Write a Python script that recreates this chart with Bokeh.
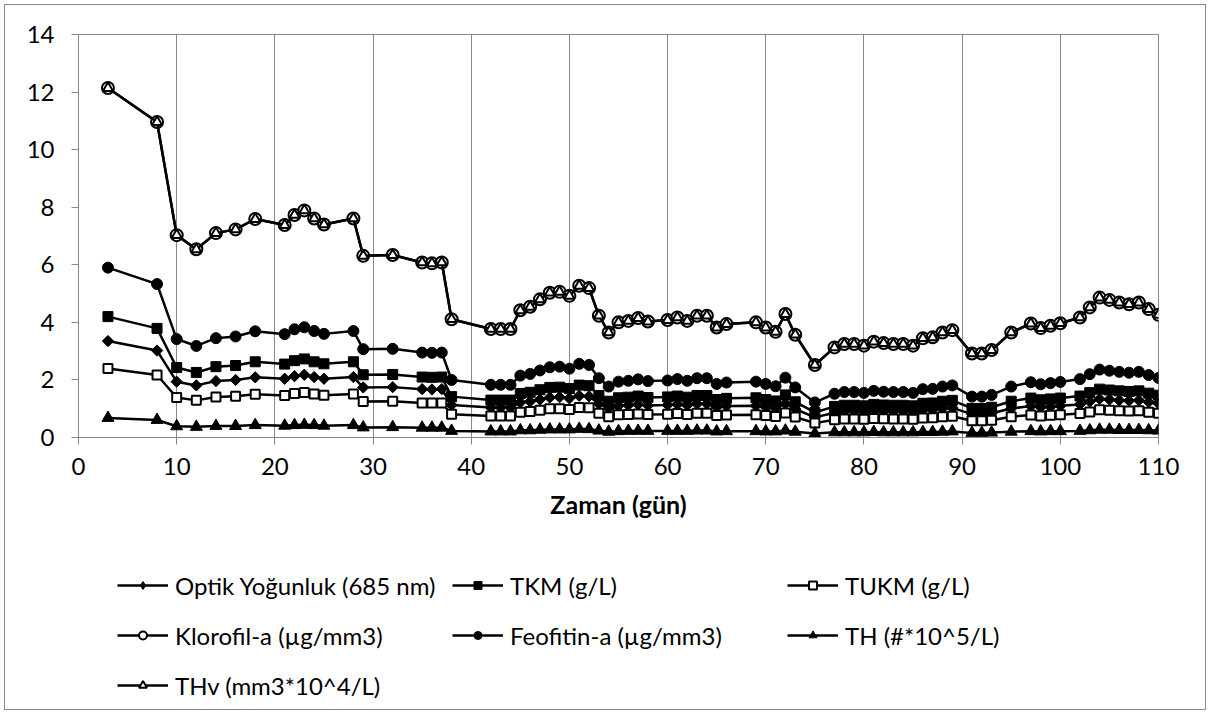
import numpy as np
from bokeh.plotting import figure
from bokeh.layouts import column
from bokeh.models import FixedTicker, Legend, LegendItem
from bokeh.embed import file_html
from bokeh.resources import INLINE

days = [3, 8, 10, 12, 14, 16, 18, 21, 22, 23, 24, 25, 28, 29, 32, 35, 36, 37, 38,
        42, 43, 44, 45, 46, 47, 48, 49, 50, 51, 52, 53, 54, 55, 56, 57, 58,
        60, 61, 62, 63, 64, 65, 66, 69, 70, 71, 72, 73, 75,
        77, 78, 79, 80, 81, 82, 83, 84, 85, 86, 87, 88, 89,
        91, 92, 93, 95, 97, 98, 99, 100, 102, 103, 104, 105, 106, 107, 108, 109, 110]

optik = [3.35, 3.02, 1.94, 1.81, 1.96, 2.00, 2.09, 2.04, 2.13, 2.18, 2.10, 2.04, 2.10, 1.74, 1.75,
         1.68, 1.67, 1.68, 1.13, 1.04, 1.04, 1.04, 1.22, 1.25, 1.32, 1.39, 1.40, 1.36, 1.45, 1.43,
         1.17, 1.01, 1.10, 1.12, 1.15, 1.11, 1.13, 1.15, 1.12, 1.17, 1.17, 1.05, 1.09, 1.10, 1.05,
         1.01, 1.18, 0.99, 0.70, 0.86, 0.90, 0.90, 0.88, 0.92, 0.91, 0.90, 0.90, 0.88, 0.95, 0.96,
         1.01, 1.03, 0.81, 0.81, 0.84, 1.01, 1.09, 1.05, 1.07, 1.10, 1.15, 1.25, 1.34, 1.32, 1.29,
         1.28, 1.29, 1.23, 1.18]

tkm = [4.20, 3.79, 2.43, 2.26, 2.46, 2.50, 2.63, 2.55, 2.67, 2.73, 2.63, 2.56, 2.63, 2.18, 2.19,
       2.10, 2.09, 2.10, 1.42, 1.30, 1.30, 1.30, 1.53, 1.57, 1.66, 1.74, 1.75, 1.70, 1.82, 1.80,
       1.46, 1.26, 1.38, 1.40, 1.44, 1.39, 1.41, 1.44, 1.40, 1.46, 1.46, 1.32, 1.36, 1.38, 1.32,
       1.27, 1.48, 1.24, 0.87, 1.08, 1.12, 1.12, 1.10, 1.15, 1.13, 1.12, 1.12, 1.10, 1.19, 1.20,
       1.26, 1.29, 1.01, 1.01, 1.05, 1.26, 1.37, 1.31, 1.34, 1.37, 1.44, 1.56, 1.68, 1.65, 1.62,
       1.60, 1.62, 1.54, 1.47]

tukm = [2.40, 2.17, 1.39, 1.29, 1.41, 1.43, 1.50, 1.46, 1.53, 1.56, 1.51, 1.47, 1.51, 1.25, 1.26,
        1.20, 1.20, 1.20, 0.81, 0.75, 0.75, 0.75, 0.88, 0.90, 0.95, 1.00, 1.00, 0.97, 1.04, 1.03,
        0.84, 0.72, 0.79, 0.80, 0.82, 0.80, 0.81, 0.83, 0.80, 0.84, 0.84, 0.76, 0.78, 0.79, 0.76,
        0.73, 0.85, 0.71, 0.50, 0.62, 0.64, 0.64, 0.63, 0.66, 0.65, 0.64, 0.64, 0.63, 0.68, 0.69,
        0.72, 0.74, 0.58, 0.58, 0.60, 0.72, 0.78, 0.75, 0.77, 0.79, 0.83, 0.89, 0.96, 0.95, 0.93,
        0.92, 0.93, 0.88, 0.84]

klorofil = [12.14, 10.96, 7.03, 6.54, 7.10, 7.23, 7.59, 7.38, 7.73, 7.89, 7.61, 7.40, 7.61, 6.31, 6.34,
            6.08, 6.05, 6.08, 4.11, 3.77, 3.77, 3.77, 4.42, 4.54, 4.80, 5.03, 5.06, 4.92, 5.27, 5.19,
            4.23, 3.65, 4.00, 4.05, 4.15, 4.03, 4.08, 4.17, 4.05, 4.23, 4.23, 3.82, 3.94, 4.00, 3.82,
            3.67, 4.29, 3.57, 2.52, 3.13, 3.25, 3.25, 3.19, 3.33, 3.28, 3.25, 3.25, 3.19, 3.45, 3.48,
            3.65, 3.73, 2.92, 2.92, 3.04, 3.65, 3.96, 3.80, 3.88, 3.97, 4.17, 4.52, 4.86, 4.78, 4.69,
            4.63, 4.69, 4.46, 4.26]

feofitin = [5.90, 5.33, 3.42, 3.18, 3.45, 3.51, 3.69, 3.59, 3.76, 3.83, 3.70, 3.60, 3.70, 3.07, 3.08,
            2.95, 2.94, 2.95, 2.00, 1.83, 1.83, 1.83, 2.15, 2.21, 2.33, 2.44, 2.46, 2.39, 2.56, 2.52,
            2.06, 1.77, 1.94, 1.97, 2.02, 1.96, 1.98, 2.03, 1.97, 2.06, 2.06, 1.86, 1.91, 1.94, 1.86,
            1.78, 2.08, 1.74, 1.22, 1.52, 1.58, 1.58, 1.55, 1.62, 1.59, 1.58, 1.58, 1.55, 1.68, 1.69,
            1.77, 1.81, 1.42, 1.42, 1.48, 1.77, 1.92, 1.85, 1.89, 1.93, 2.03, 2.20, 2.36, 2.32, 2.28,
            2.25, 2.28, 2.17, 2.07]

th = [0.68, 0.61, 0.39, 0.37, 0.40, 0.40, 0.43, 0.41, 0.43, 0.44, 0.43, 0.41, 0.43, 0.35, 0.36,
      0.34, 0.34, 0.34, 0.23, 0.21, 0.21, 0.21, 0.25, 0.25, 0.27, 0.28, 0.28, 0.28, 0.30, 0.29,
      0.24, 0.20, 0.22, 0.23, 0.23, 0.23, 0.23, 0.23, 0.23, 0.24, 0.24, 0.21, 0.22, 0.22, 0.21,
      0.21, 0.24, 0.20, 0.14, 0.18, 0.18, 0.18, 0.18, 0.19, 0.18, 0.18, 0.18, 0.18, 0.19, 0.19,
      0.20, 0.21, 0.16, 0.16, 0.17, 0.20, 0.22, 0.21, 0.22, 0.22, 0.23, 0.25, 0.27, 0.27, 0.26,
      0.26, 0.26, 0.25, 0.24]

thv = [12.14, 10.96, 7.03, 6.54, 7.10, 7.23, 7.59, 7.38, 7.73, 7.89, 7.61, 7.40, 7.61, 6.31, 6.34,
       6.08, 6.05, 6.08, 4.11, 3.77, 3.77, 3.77, 4.42, 4.54, 4.80, 5.03, 5.06, 4.92, 5.27, 5.19,
       4.23, 3.65, 4.00, 4.05, 4.15, 4.03, 4.08, 4.17, 4.05, 4.23, 4.23, 3.82, 3.94, 4.00, 3.82,
       3.67, 4.29, 3.57, 2.52, 3.13, 3.25, 3.25, 3.19, 3.33, 3.28, 3.25, 3.25, 3.19, 3.45, 3.48,
       3.65, 3.73, 2.92, 2.92, 3.04, 3.65, 3.96, 3.80, 3.88, 3.97, 4.17, 4.52, 4.86, 4.78, 4.69,
       4.63, 4.69, 4.46, 4.26]

series_labels = ["Optik Yoğunluk (685 nm)", "TKM (g/L)", "TUKM (g/L)",
                 "Klorofil-a (µg/mm3)", "Feofitin-a (µg/mm3)", "TH (#*10^5/L)",
                 "THv (mm3*10^4/L)"]
x_ticks = [0, 10, 20, 30, 40, 50, 60, 70, 80, 90, 100, 110]
y_ticks = [0, 2, 4, 6, 8, 10, 12, 14]
x_title = "Zaman (gün)"

FONT = "Lato"
GRAY = "#898989"
TOP_H = 540
LEG_H = 714 - TOP_H

p = figure(width=1210, height=TOP_H, x_range=(0, 110), y_range=(0, 14),
           output_backend="svg", toolbar_location=None,
           min_border_left=78, min_border_right=52, min_border_top=34,
           min_border_bottom=TOP_H - 437)
p.border_fill_color = None
p.background_fill_color = None
p.outline_line_color = GRAY

p.xaxis.ticker = FixedTicker(ticks=x_ticks)
p.yaxis.ticker = FixedTicker(ticks=y_ticks)
for ax in (p.xaxis[0], p.yaxis[0]):
    ax.axis_line_color = GRAY
    ax.major_tick_line_color = GRAY
    ax.major_tick_out = 7
    ax.major_tick_in = 0
    ax.minor_tick_line_color = None
    ax.major_label_text_font = FONT
    ax.major_label_text_font_size = "24px"
    ax.major_label_text_color = "black"
p.xaxis.major_label_standoff = 13
p.yaxis.major_label_standoff = 17
p.xaxis.axis_label = x_title
p.xaxis.axis_label_text_font = FONT
p.xaxis.axis_label_text_font_style = "bold"
p.xaxis.axis_label_text_font_size = "25px"
p.xaxis.axis_label_text_color = "black"
p.xaxis.axis_label_standoff = 11

p.xgrid.ticker = FixedTicker(ticks=x_ticks)
p.xgrid.grid_line_color = GRAY
p.ygrid.grid_line_color = None

styles = [
    (optik, dict(marker="square", size=8, angle=np.pi / 4, fill_color="black", line_color="black")),
    (tkm, dict(marker="square", size=10, fill_color="black", line_color="black")),
    (tukm, dict(marker="square", size=9, fill_color="white", line_color="black", line_width=2)),
    (klorofil, dict(marker="circle", size=12, fill_color="white", line_color="black", line_width=2)),
    (feofitin, dict(marker="circle", size=11, fill_color="black", line_color="black")),
    (th, dict(marker="triangle", size=12, fill_color="black", line_color="black")),
    (thv, dict(marker="triangle", size=10, fill_color="white", line_color="black", line_width=2)),
]

for vals, st in styles:
    p.line(days, vals, line_color="black", line_width=2.5)
    p.scatter(days, vals, **st)

# legend panel: a second figure below the chart (its own frame, so nothing is clipped)
leg = figure(width=1210, height=LEG_H, x_range=(-1, 0), y_range=(-1, 0),
             x_axis_type=None, y_axis_type=None,
             output_backend="svg", toolbar_location=None,
             min_border_left=0, min_border_right=0, min_border_top=0, min_border_bottom=0)
leg.border_fill_color = None
leg.background_fill_color = None
leg.outline_line_color = None
leg.xgrid.visible = False
leg.ygrid.visible = False

items = []
for (vals, st), lab in zip(styles, series_labels):
    st_leg = dict(st)
    if "angle" in st_leg:
        st_leg.pop("angle")
        st_leg["marker"] = "diamond"
    # one real point per series (outside this panel's visible range) so the legend swatch is drawn
    rl = leg.line(days[:1], vals[:1], line_color="black", line_width=2.5)
    rm = leg.scatter(days[:1], vals[:1], **st_leg)
    items.append(LegendItem(label=lab, renderers=[rl, rm], index=0))

legend = Legend(items=items, location=(39, 9), orientation="horizontal", ncols=3,
                glyph_width=51, glyph_height=20, label_standoff=7, spacing=10,
                label_height=40, label_width=267, padding=0, margin=0,
                border_line_color=None, background_fill_alpha=0,
                label_text_font=FONT, label_text_font_size="24px", label_text_color="black")
leg.add_layout(legend)

layout = column(p, leg, spacing=0,
                styles={"outline": "1px solid #898989", "outline-offset": "-5px"})

open("out.html", "w").write(file_html(layout, INLINE))
